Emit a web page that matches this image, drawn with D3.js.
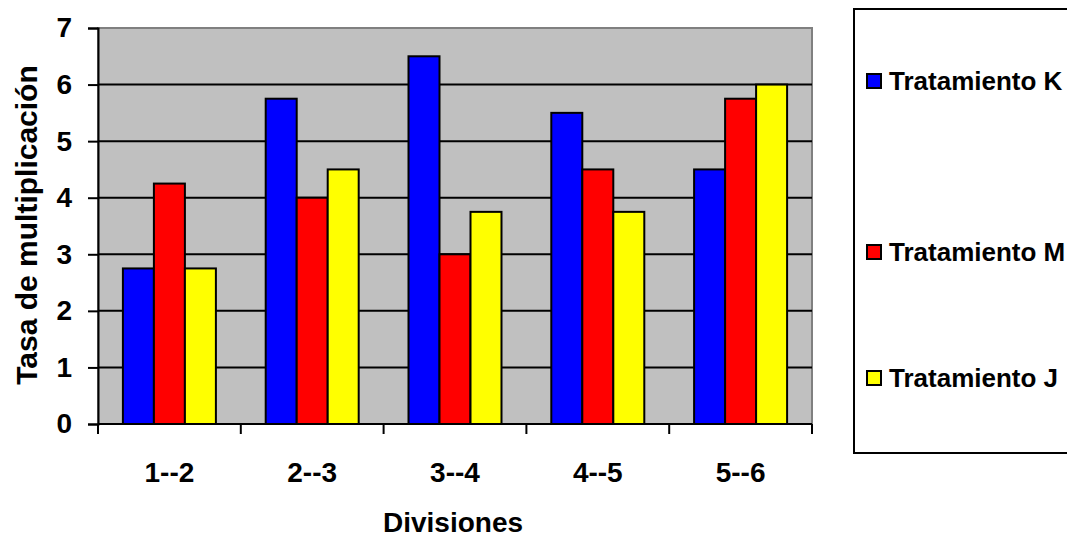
<!DOCTYPE html>
<html>
<head>
<meta charset="utf-8">
<script src="https://cdn.jsdelivr.net/npm/d3@7"></script>
<style>
  body { margin: 0; background: #fff; }
  svg { display: block; font-family: "Liberation Sans", Arial, sans-serif; }
</style>
</head>
<body>
<div id="chart"></div>
<script>
// chart values
const divisiones = ["1--2", "2--3", "3--4", "4--5", "5--6"];
const tratamientos = ["Tratamiento K", "Tratamiento M", "Tratamiento J"];
const tratK = [2.75, 5.75, 6.5, 5.5, 4.5];
const tratM = [4.25, 4, 3, 4.5, 5.75];
const tratJ = [2.75, 4.5, 3.75, 3.75, 6];
const yTicks = [0, 1, 2, 3, 4, 5, 6, 7];
const colores = ["#0000ff", "#ff0000", "#ffff00"];

const series = [tratK, tratM, tratJ];
const data = divisiones.map((d, i) => ({
  div: d,
  vals: tratamientos.map((t, j) => ({ serie: t, value: series[j][i] }))
}));

const width = 1067, height = 541;
const margin = { top: 28, right: 255, bottom: 117, left: 98 };
const plotW = width - margin.left - margin.right,
    plotH = height - margin.top - margin.bottom;

const svg = d3.select("#chart").append("svg")
  .attr("width", width)
  .attr("height", height);

const g = svg.append("g").attr("transform", `translate(${margin.left},${margin.top})`);

const x = d3.scaleBand().domain(divisiones).range([0, plotW]);
const xInner = d3.scaleBand().domain(tratamientos).range([0, 93]);
const y = d3.scaleLinear().domain([0, 7]).range([plotH, 0]);
const color = d3.scaleOrdinal().domain(tratamientos).range(colores);

// gray plot background with gray border
g.append("rect")
  .attr("width", plotW).attr("height", plotH)
  .attr("fill", "#c0c0c0")
  .attr("stroke", "#808080").attr("stroke-width", 2);

// horizontal grid lines
g.append("g").selectAll("line")
  .data(yTicks.slice(1, -1))
  .join("line")
  .attr("x1", 0).attr("x2", plotW)
  .attr("y1", d => y(d)).attr("y2", d => y(d))
  .attr("stroke", "#000").attr("stroke-width", 2);

// bars
g.append("g").selectAll("g")
  .data(data)
  .join("g")
  .attr("transform", d => `translate(${x(d.div) + (x.bandwidth() - 93) / 2},0)`)
  .selectAll("rect")
  .data(d => d.vals)
  .join("rect")
  .attr("x", d => xInner(d.serie))
  .attr("y", d => y(d.value))
  .attr("width", xInner.bandwidth())
  .attr("height", d => y(0) - y(d.value))
  .attr("fill", d => color(d.serie))
  .attr("stroke", "#000").attr("stroke-width", 2);

// y axis
const yAxis = g.append("g")
  .call(d3.axisLeft(y).tickValues(yTicks).tickFormat(d => d).tickSize(10).tickPadding(16));
yAxis.select(".domain").attr("stroke-width", 2);
yAxis.selectAll(".tick line").attr("stroke-width", 2);
yAxis.selectAll("text")
  .attr("font-family", "Liberation Sans, Arial, sans-serif")
  .attr("font-size", 28).attr("font-weight", "bold").attr("fill", "#000");

// x axis: ticks at category boundaries
const xAxis = g.append("g").attr("transform", `translate(0,${plotH})`);
xAxis.append("line")
  .attr("x1", 0).attr("x2", plotW)
  .attr("stroke", "#000").attr("stroke-width", 2);
xAxis.selectAll(".bound")
  .data(divisiones.concat(["end"]))
  .join("line")
  .attr("class", "bound")
  .attr("x1", (d, i) => i * x.step()).attr("x2", (d, i) => i * x.step())
  .attr("y1", 0).attr("y2", 10)
  .attr("stroke", "#000").attr("stroke-width", 2);
xAxis.selectAll("text")
  .data(divisiones)
  .join("text")
  .attr("x", d => x(d) + x.bandwidth() / 2)
  .attr("y", 58)
  .attr("text-anchor", "middle")
  .attr("font-size", 28).attr("font-weight", "bold")
  .text(d => d);

// axis titles
svg.append("text")
  .attr("x", margin.left + plotW / 2 - 2)
  .attr("y", 532)
  .attr("text-anchor", "middle")
  .attr("font-size", 28).attr("font-weight", "bold")
  .text("Divisiones");

svg.append("text")
  .attr("transform", `translate(37,225) rotate(-90)`)
  .attr("text-anchor", "middle")
  .attr("font-size", 30).attr("font-weight", "bold")
  .text("Tasa de multiplicación");

// legend
const legend = svg.append("g");
legend.append("rect")
  .attr("x", 854).attr("y", 9)
  .attr("width", 240).attr("height", 444)
  .attr("fill", "#fff").attr("stroke", "#000").attr("stroke-width", 2);

const item = legend.selectAll("g.item")
  .data(tratamientos)
  .join("g")
  .attr("class", "item")
  .attr("transform", (d, i) => `translate(867,${[81, 252, 378][i]})`);
item.append("rect")
  .attr("x", 0).attr("y", -7)
  .attr("width", 14).attr("height", 14)
  .attr("fill", d => color(d))
  .attr("stroke", "#000").attr("stroke-width", 2);
item.append("text")
  .attr("x", 22).attr("y", 9)
  .attr("font-size", 26).attr("font-weight", "bold")
  .text(d => d);
</script>
</body>
</html>
